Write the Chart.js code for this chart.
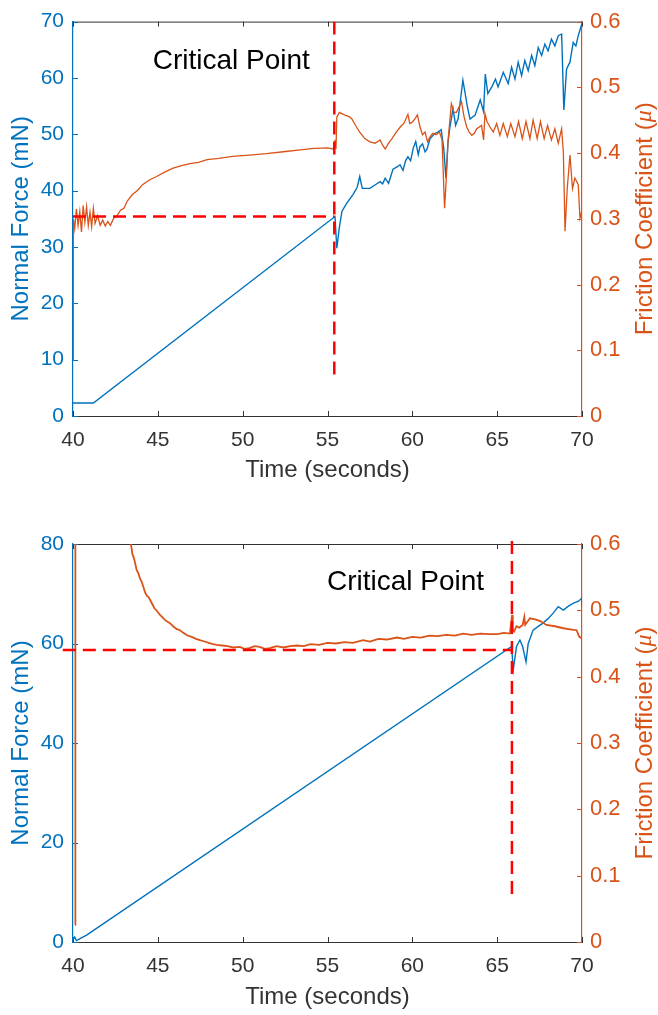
<!DOCTYPE html>
<html>
<head>
<meta charset="utf-8">
<title>Normal force and friction coefficient vs time</title>
<script src="https://cdn.jsdelivr.net/npm/chart.js@4.4.1/dist/chart.umd.min.js"></script>
<style>
  html, body { margin: 0; padding: 0; background: #fff; }
  #wrap { position: relative; width: 658px; height: 1015px; }
  canvas { position: absolute; left: 0; }
  #topChart { top: 0; }
  #bottomChart { top: 500px; }
</style>
</head>
<body>
<div id="wrap">
  <canvas id="topChart" width="658" height="500"></canvas>
  <canvas id="bottomChart" width="658" height="515"></canvas>
</div>
<script>
// Scratch test: normal force (left axis) and friction coefficient (right axis) over time

const BLUE = "#0072BD";
const ORANGE = "#D95319";
const GREY = "#333333";
const RED = "#FF0000";
const FONT = '"Liberation Sans", Arial, Helvetica, sans-serif';

const TIME_TICKS = [40, 45, 50, 55, 60, 65, 70];

// ---- run 1 ----
const run1ForceT = [40.0, 41.2, 55.44, 55.55, 55.7, 55.85, 56.1, 56.5, 56.75, 56.9, 57.05, 57.5, 57.8, 58.1, 58.25,
  58.4, 58.6, 58.86, 59.1, 59.27, 59.45, 59.6, 59.74, 59.9, 60.05, 60.2, 60.35, 60.45, 60.6, 60.75, 60.86, 61.04,
  61.3, 61.5, 61.7, 61.85, 61.98, 62.1, 62.2, 62.4, 62.55, 62.7, 62.98, 63.1, 63.25, 63.4, 63.7, 64.0, 64.2, 64.3,
  64.45, 64.7, 64.9, 65.05, 65.16, 65.36, 65.65, 65.85, 66.05, 66.24, 66.44, 66.63, 66.83, 67.03, 67.22, 67.42,
  67.62, 67.81, 68.0, 68.2, 68.4, 68.6, 68.8, 68.93, 69.09, 69.29, 69.48, 69.64, 69.78, 69.98];
const run1Force = [2.3, 2.3, 35.4, 29.8, 33.5, 36.3, 37.6, 39.3, 40.6, 42.5, 40.4, 40.4, 41.0, 41.6, 41.2,
  42.2, 41.3, 43.8, 44.2, 44.6, 43.6, 45.3, 46.0, 45.3, 47.5, 48.7, 46.4, 47.8, 48.3, 46.9, 47.3, 49.2,
  50.1, 50.4, 50.8, 47.5, 42.2, 48.5, 51.0, 54.5, 51.6, 52.8, 59.6, 57.5, 54.8, 52.7, 53.4, 56.1, 54.0, 60.7,
  57.2, 58.5, 59.8, 58.4, 59.3, 61.0, 59.0, 61.9, 59.8, 62.8, 60.4, 63.1, 61.3, 64.0, 62.2, 65.4,
  64.0, 66.0, 64.8, 66.9, 65.7, 67.5, 67.8, 54.3, 61.6, 62.8, 66.3, 65.7, 67.5, 69.5];

const run1MuT = [40.0, 40.02, 40.1, 40.2, 40.3, 40.4, 40.5, 40.6, 40.7, 40.8, 40.9, 41.0, 41.1, 41.2, 41.3, 41.45,
  41.6, 41.75, 41.9, 42.05, 42.2, 42.4, 42.6, 42.8, 43.0, 43.2, 43.5, 43.8, 44.1, 44.5, 44.9, 45.4, 45.9, 46.4,
  46.9, 47.4, 47.9, 48.6, 49.4, 50.4, 51.4, 52.4, 53.4, 54.2, 55.0, 55.4, 55.45, 55.5, 55.55, 55.7, 56.0, 56.3,
  56.44, 56.7, 56.9, 57.2, 57.5, 57.8, 58.1, 58.25, 58.4, 58.6, 58.8, 59.05, 59.3, 59.5, 59.74, 59.85, 60.0,
  60.15, 60.3, 60.45, 60.6, 60.75, 60.9, 61.05, 61.2, 61.4, 61.6, 61.75, 61.9, 62.0, 62.1, 62.3, 62.45, 62.6,
  62.75, 62.9, 63.05, 63.2, 63.35, 63.5, 63.65, 63.8, 64.08, 64.2, 64.28, 64.4, 64.57, 64.77, 64.97, 65.16,
  65.36, 65.6, 65.8, 66.05, 66.26, 66.48, 66.7, 66.93, 67.12, 67.36, 67.55, 67.77, 67.97, 68.2, 68.4, 68.6,
  68.8, 68.9, 69.0, 69.13, 69.29, 69.44, 69.58, 69.78, 69.88, 69.98];
const run1Mu = [0.085, 0.30, 0.285, 0.315, 0.29, 0.311, 0.28, 0.32, 0.295, 0.318, 0.29, 0.31, 0.288, 0.316, 0.293, 0.305,
  0.29, 0.298, 0.289, 0.296, 0.29, 0.301, 0.305, 0.313, 0.316, 0.327, 0.337, 0.343, 0.352, 0.359, 0.364, 0.371, 0.377, 0.381,
  0.384, 0.386, 0.39, 0.392, 0.395, 0.397, 0.399, 0.402, 0.405, 0.407, 0.408, 0.406, 0.42, 0.406, 0.455, 0.462, 0.458, 0.455,
  0.452, 0.44, 0.432, 0.422, 0.417, 0.415, 0.42, 0.412, 0.406, 0.415, 0.422, 0.432, 0.44, 0.445, 0.459, 0.445, 0.447,
  0.452, 0.458, 0.44, 0.428, 0.432, 0.417, 0.425, 0.43, 0.428, 0.432, 0.42, 0.316, 0.36, 0.417, 0.475, 0.462, 0.462,
  0.47, 0.478, 0.455, 0.44, 0.432, 0.427, 0.43, 0.437, 0.442, 0.42, 0.46, 0.448, 0.44, 0.432, 0.445, 0.427,
  0.445, 0.425, 0.445, 0.425, 0.448, 0.422, 0.448, 0.422, 0.45, 0.422, 0.448, 0.422, 0.442, 0.42, 0.437, 0.415,
  0.437, 0.402, 0.281, 0.346, 0.397, 0.346, 0.362, 0.352, 0.301, 0.311];

// critical point guides (force axis)
const run1GuideHT = [40.0, 55.4];
const run1GuideHF = [35.4, 35.4];
const run1GuideVT = [55.4, 55.4];
const run1GuideVF = [70, 7.2];

// ---- run 2 ----
const run2ForceT = [40.0, 40.1, 40.2, 40.8, 65.85, 65.95, 66.14, 66.34, 66.5, 66.7, 66.83, 67.12, 67.4, 67.7, 68.0,
  68.3, 68.6, 68.9, 69.2, 69.5, 69.8, 69.98, 70.0];
const run2Force = [0.4, 1.0, 0.3, 1.4, 59.4, 54.7, 59.4, 60.7, 59.4, 56.3, 60.0, 62.7, 63.4, 64.1, 65.0,
  66.1, 67.4, 66.7, 67.5, 68.1, 68.5, 69.1, 67.5];

const run2MuT = [40.12, 40.14, 43.3, 43.42, 43.5, 43.6, 43.75, 43.85, 43.95, 44.05, 44.14, 44.25, 44.35, 44.45, 44.54,
  44.7, 44.8, 44.95, 45.13, 45.25, 45.4, 45.55, 45.7, 45.9, 46.1, 46.3, 46.5, 46.75, 47.0, 47.25, 47.48, 47.75, 48.0,
  48.25, 48.47, 48.8, 49.1, 49.45, 49.84, 50.1, 50.4, 50.7, 51.0, 51.3, 51.6, 52.0, 52.4, 52.8, 53.2, 53.6, 54.0,
  54.5, 55.0, 55.5, 56.0, 56.5, 57.1, 57.5, 58.0, 58.5, 59.1, 59.5, 60.0, 60.5, 61.0, 61.5, 62.0, 62.5, 63.0,
  63.5, 64.0, 64.5, 65.0, 65.4, 65.75, 65.88, 65.92, 66.0, 66.14, 66.3, 66.5, 66.6, 66.65, 66.93, 67.3, 67.6,
  67.9, 68.4, 68.9, 69.4, 69.68, 69.84, 69.98];
const run2Mu = [0.026, 0.9, 0.62, 0.599, 0.585, 0.578, 0.561, 0.556, 0.548, 0.543, 0.536, 0.527, 0.522, 0.52, 0.516,
  0.508, 0.503, 0.499, 0.493, 0.49, 0.486, 0.483, 0.481, 0.476, 0.472, 0.47, 0.466, 0.462, 0.46, 0.457, 0.455, 0.453, 0.451,
  0.449, 0.448, 0.447, 0.446, 0.444, 0.445, 0.442, 0.443, 0.446, 0.445, 0.442, 0.443, 0.446, 0.444, 0.446, 0.447, 0.446, 0.449,
  0.448, 0.451, 0.45, 0.452, 0.451, 0.455, 0.453, 0.457, 0.456, 0.459, 0.457, 0.46, 0.459, 0.462, 0.461, 0.463, 0.462, 0.465,
  0.463, 0.465, 0.464, 0.464, 0.466, 0.465, 0.493, 0.47, 0.468, 0.476, 0.474, 0.478, 0.49, 0.478, 0.488, 0.486, 0.483,
  0.478, 0.476, 0.473, 0.471, 0.47, 0.46, 0.458];

const run2GuideHT = [39.4, 65.87];
const run2GuideHF = [58.7, 58.7];
const run2GuideVT = [65.87, 65.87];
const run2GuideVF = [80.6, 8.8];

function pairs(ts, vs) {
  return ts.map((t, i) => ({ x: t, y: vs[i] }));
}

// MATLAB style box: inward tick marks on all four sides plus the grey top edge
const innerTicks = {
  id: "innerTicks",
  beforeDatasetsDraw(chart) {
    const { ctx, chartArea: a, scales } = chart;
    const len = 5;
    ctx.save();
    ctx.lineWidth = 1;
    ctx.strokeStyle = GREY;
    ctx.beginPath();
    ctx.moveTo(a.left, a.top + 0.5);
    ctx.lineTo(a.right, a.top + 0.5);
    scales.x.ticks.forEach((t) => {
      const px = Math.round(scales.x.getPixelForValue(t.value)) + 0.5;
      ctx.moveTo(px, a.bottom);
      ctx.lineTo(px, a.bottom - len);
      ctx.moveTo(px, a.top);
      ctx.lineTo(px, a.top + len);
    });
    ctx.stroke();

    ctx.strokeStyle = BLUE;
    ctx.beginPath();
    scales.y.ticks.forEach((t) => {
      const py = Math.round(scales.y.getPixelForValue(t.value)) + 0.5;
      ctx.moveTo(a.left, py);
      ctx.lineTo(a.left + len, py);
    });
    ctx.stroke();

    ctx.strokeStyle = ORANGE;
    ctx.beginPath();
    scales.y1.ticks.forEach((t) => {
      const py = Math.round(scales.y1.getPixelForValue(t.value)) + 0.5;
      ctx.moveTo(a.right, py);
      ctx.lineTo(a.right - len, py);
    });
    ctx.stroke();
    ctx.restore();
  },
};

// right axis title, read bottom-to-top, with an italic mu
const muTitle = {
  id: "muTitle",
  afterDraw(chart, args, opts) {
    const { ctx, chartArea: a } = chart;
    const plain = `24px ${FONT}`;
    const ital = `italic 24px "Liberation Serif", "DejaVu Serif", serif`;
    const parts = [
      ["Friction Coefficient (", plain],
      ["\u03BC", ital],
      [")", plain],
    ];
    ctx.save();
    ctx.translate(opts.x, (a.top + a.bottom) / 2);
    ctx.rotate(-Math.PI / 2);
    ctx.fillStyle = ORANGE;
    ctx.textBaseline = "middle";
    ctx.textAlign = "left";
    let total = 0;
    parts.forEach(([s, f]) => { ctx.font = f; total += ctx.measureText(s).width; });
    let x = -total / 2;
    parts.forEach(([s, f]) => {
      ctx.font = f;
      ctx.fillText(s, x, 0);
      x += ctx.measureText(s).width;
    });
    ctx.restore();
  },
};

// "Critical Point" note, anchored in data units
const critLabel = {
  id: "critLabel",
  afterDraw(chart, args, opts) {
    const { ctx, scales } = chart;
    ctx.save();
    ctx.font = `28px ${FONT}`;
    ctx.fillStyle = "#000";
    ctx.textAlign = "left";
    ctx.textBaseline = "alphabetic";
    ctx.fillText("Critical Point", scales.x.getPixelForValue(opts.t), scales.y.getPixelForValue(opts.f));
    ctx.restore();
  },
};

function buildChart(id, cfg) {
  const guide = (ts, fs, clip) => ({
    data: pairs(ts, fs),
    yAxisID: "y",
    borderColor: RED,
    borderWidth: 2.5,
    borderDash: [13, 7],
    pointRadius: 0,
    clip: clip ? false : undefined,
    order: 0,
  });
  return new Chart(document.getElementById(id), {
    type: "line",
    data: {
      datasets: [
        guide(cfg.guideHT, cfg.guideHF, cfg.clipGuide),
        guide(cfg.guideVT, cfg.guideVF, cfg.clipGuide),
        {
          data: pairs(cfg.muT, cfg.mu),
          yAxisID: "y1",
          borderColor: ORANGE,
          borderWidth: cfg.muWidth,
          pointRadius: 0,
          order: 1,
        },
        {
          data: pairs(cfg.forceT, cfg.force),
          yAxisID: "y",
          borderColor: BLUE,
          borderWidth: 1.4,
          pointRadius: 0,
          order: 2,
        },
      ],
    },
    options: {
      responsive: false,
      animation: false,
      events: [],
      layout: { padding: { top: cfg.padTop, left: 0, right: 0, bottom: 0 } },
      plugins: {
        legend: { display: false },
        tooltip: { enabled: false },
        muTitle: { x: 645 },
        critLabel: cfg.crit,
      },
      scales: {
        x: {
          type: "linear",
          min: 40,
          max: 70,
          afterBuildTicks: (s) => { s.ticks = TIME_TICKS.map((v) => ({ value: v })); },
          ticks: { color: GREY, font: { family: FONT, size: 21 }, padding: 12, maxRotation: 0 },
          grid: { display: false, drawTicks: false },
          border: { color: GREY, width: 1 },
          title: {
            display: true,
            text: "Time (seconds)",
            color: GREY,
            font: { family: FONT, size: 24 },
            padding: { top: 0, bottom: cfg.xTitlePad },
          },
          afterFit: (s) => { s.height = cfg.xHeight; },
        },
        y: {
          position: "left",
          min: 0,
          max: cfg.forceMax,
          afterBuildTicks: (s) => { s.ticks = cfg.forceTicks.map((v) => ({ value: v })); },
          ticks: { color: BLUE, font: { family: FONT, size: 21 }, padding: 9 },
          grid: { display: false, drawTicks: false },
          border: { color: BLUE, width: 1.2 },
          title: {
            display: true,
            text: "Normal Force (mN)",
            color: BLUE,
            font: { family: FONT, size: 24 },
            padding: { top: 7, bottom: 0 },
          },
          afterFit: (s) => { s.width = 73; },
        },
        y1: {
          position: "right",
          min: 0,
          max: 0.6,
          afterBuildTicks: (s) => { s.ticks = cfg.muTicks.map((v) => ({ value: v })); },
          ticks: { color: ORANGE, font: { family: FONT, size: 22 }, padding: 8 },
          grid: { display: false, drawTicks: false },
          border: { color: ORANGE, width: 1.2 },
          afterFit: (s) => { s.width = 76; },
        },
      },
    },
    plugins: [innerTicks, muTitle, critLabel],
  });
}

const MU_TICKS = [0, 0.1, 0.2, 0.3, 0.4, 0.5, 0.6];

buildChart("topChart", {
  forceT: run1ForceT, force: run1Force,
  muT: run1MuT, mu: run1Mu, muWidth: 1.3,
  guideHT: run1GuideHT, guideHF: run1GuideHF, guideVT: run1GuideVT, guideVF: run1GuideVF,
  clipGuide: false,
  forceMax: 70, forceTicks: [0, 10, 20, 30, 40, 50, 60, 70], muTicks: MU_TICKS,
  padTop: 19, xHeight: 84, xTitlePad: 15,
  crit: { t: 44.7, f: 61.5 },
});

buildChart("bottomChart", {
  forceT: run2ForceT, force: run2Force,
  muT: run2MuT, mu: run2Mu, muWidth: 1.8,
  guideHT: run2GuideHT, guideHF: run2GuideHF, guideVT: run2GuideVT, guideVF: run2GuideVF,
  clipGuide: true,
  forceMax: 80, forceTicks: [0, 20, 40, 60, 80], muTicks: MU_TICKS,
  padTop: 44, xHeight: 73, xTitlePad: 3,
  crit: { t: 54.97, f: 70.8 },
});
</script>
</body>
</html>
